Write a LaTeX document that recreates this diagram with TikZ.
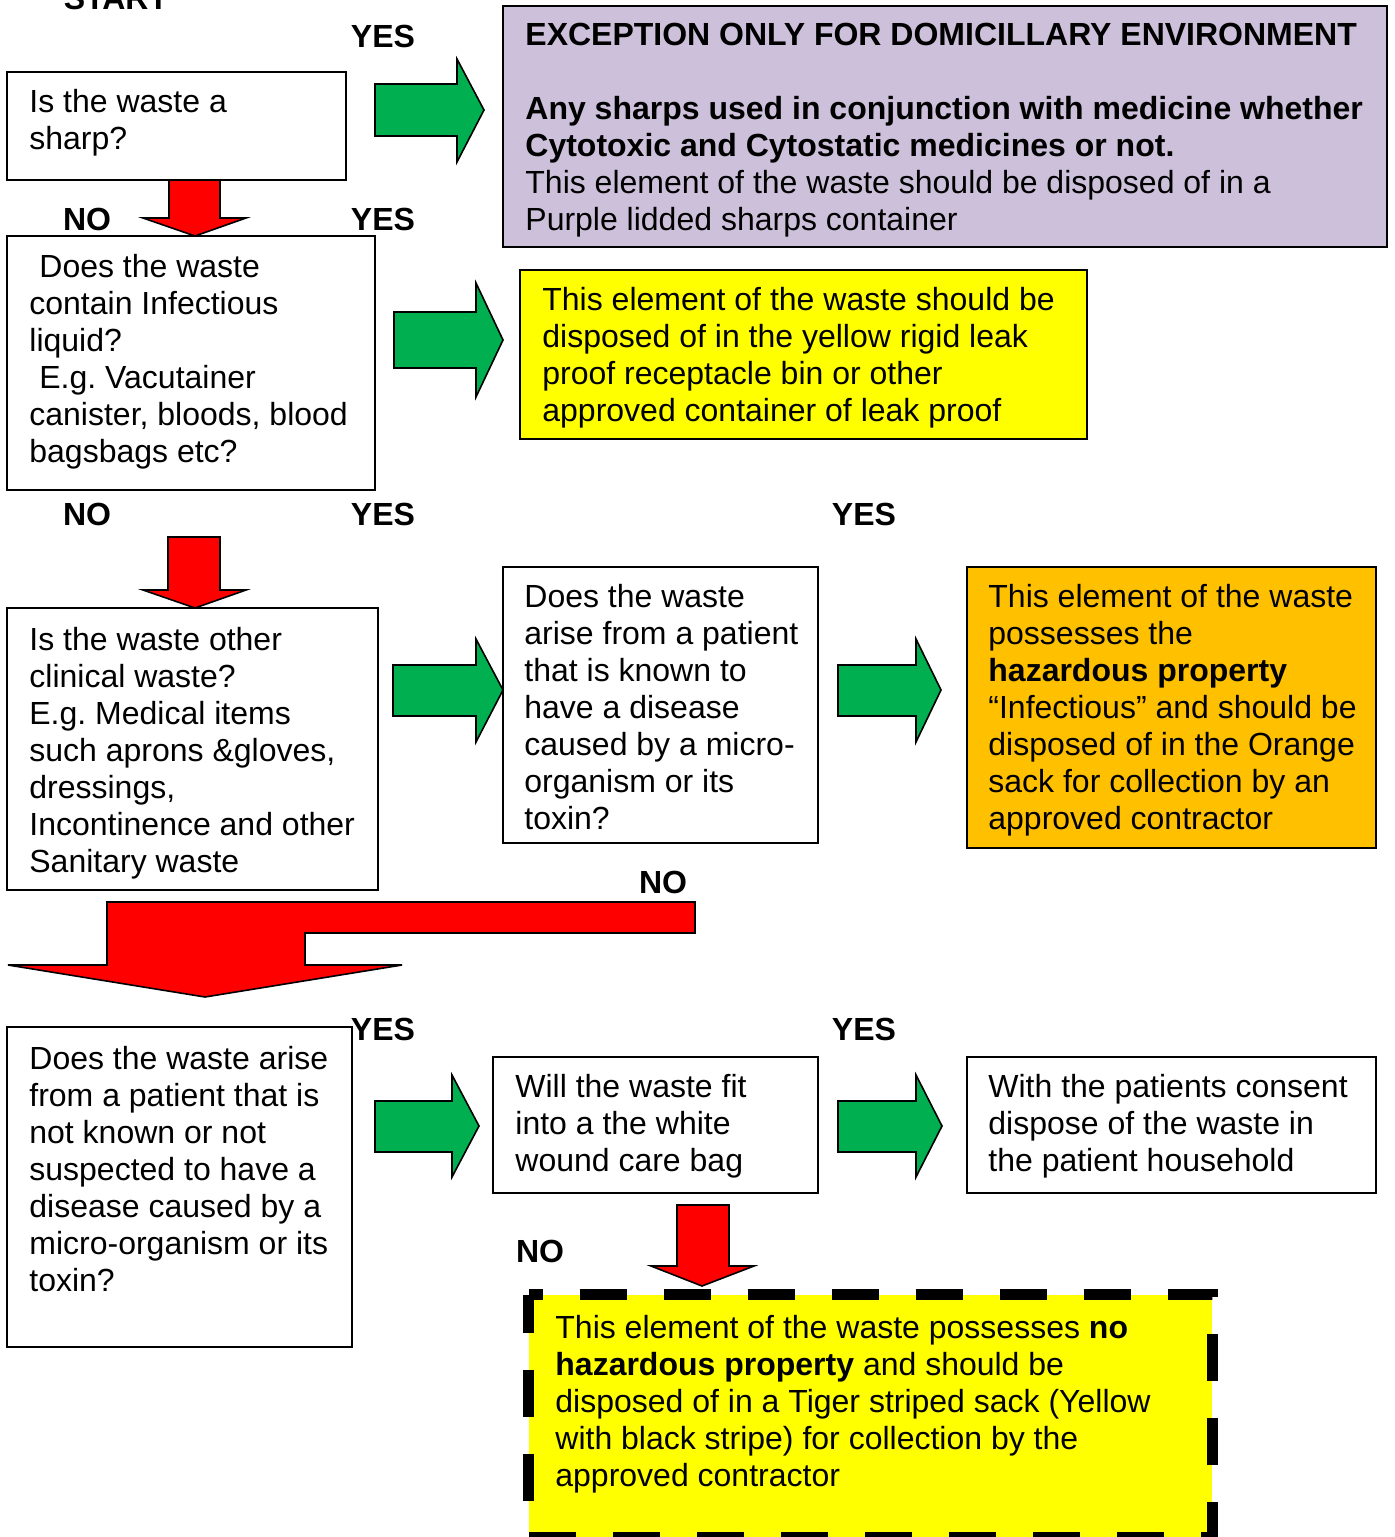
\documentclass[tikz,border=0pt]{standalone}
\usepackage{fontspec}
\setmainfont{Liberation Sans}
\usetikzlibrary{fit}
\definecolor{purplebox}{HTML}{CCC0DA}
\definecolor{yelbox}{HTML}{FFFF00}
\definecolor{orgbox}{HTML}{FFC000}
\definecolor{grn}{HTML}{00B050}
\definecolor{rd}{HTML}{FF0000}
\frenchspacing
\newcommand\tlines[1]{\parbox[t]{700pt}{\raggedright #1}}
\begin{document}
\begin{tikzpicture}[x=0.5pt,y=-0.5pt,
  box/.style={draw=black,line width=1pt,inner sep=0pt},
  txt/.style={anchor=base west,inner sep=0pt,font=\fontsize{16pt}{18.5pt}\selectfont},
  lbl/.style={anchor=base,inner sep=0pt,font=\fontsize{16pt}{18.5pt}\selectfont\bfseries},
  garrow/.style={fill=grn,draw=black,line width=0.8pt,line join=miter},
  rarrow/.style={fill=rd,draw=black,line width=0.8pt,line join=miter},
  dashborder/.style={draw=black,line width=5.5pt,dash pattern=on 23.5pt off 18.5pt,dash phase=16.5pt,line join=miter}]
\useasboundingbox (0,0) rectangle (1394,1537);

% boxes
\node[box,fit={(7,72) (346,180)}] (b1) {};
\node[box,fit={(7,236) (375,490)}] (b2) {};
\node[box,fill=purplebox,fit={(503,6) (1387,247)}] (pu) {};
\node[box,fill=yelbox,fit={(520,270) (1087,439)}] (ye) {};
\node[box,fit={(7,608) (378,890)}] (b3) {};
\node[box,fit={(503,567) (818,843)}] (b4) {};
\node[box,fill=orgbox,fit={(967,567) (1376,848)}] (or) {};
\node[box,fit={(7,1027) (352,1347)}] (b5) {};
\node[box,fit={(493,1057) (818,1193)}] (b6) {};
\node[box,fit={(967,1057) (1376,1193)}] (b7) {};
\node[inner sep=0pt,fill=yelbox,fit={(529,1295) (1212,1537)}] (dz) {};
\draw[dashborder] (dz.north west) -- (dz.north east) -- (dz.south east) -- (dz.south west) -- cycle;

% texts
\node[txt] (t1) at (29,112) {\tlines{Is the waste a\\sharp?}};
\node[txt] (t2) at (29,277) {\tlines{\hspace*{5pt}Does the waste\\contain Infectious\\liquid?\\\hspace*{5pt}E.g. Vacutainer\\canister, bloods, blood\\bagsbags etc?}};
\node[txt] (tpu) at (525,45) {\tlines{\textbf{EXCEPTION ONLY FOR DOMICILLARY ENVIRONMENT}\\[18.5pt]\textbf{Any sharps used in conjunction with medicine whether}\\\textbf{Cytotoxic and Cytostatic medicines or not.}\\This element of the waste should be disposed of in a\\Purple lidded sharps container}};
\node[txt] (tye) at (542,310) {\tlines{This element of the waste should be\\disposed of in the yellow rigid leak\\proof receptacle bin or other\\approved container of leak proof}};
\node[txt] (t3) at (29,650) {\tlines{Is the waste other\\clinical waste?\\E.g. Medical items\\such aprons \&gloves,\\dressings,\\Incontinence and other\\Sanitary waste}};
\node[txt] (t4) at (524,607) {\tlines{Does the waste\\arise from a patient\\that is known to\\have a disease\\caused by a micro-\\organism or its\\toxin?}};
\node[txt] (tor) at (988,607) {\tlines{This element of the waste\\possesses the\\\textbf{hazardous property}\\“Infectious” and should be\\disposed of in the Orange\\sack for collection by an\\approved contractor}};
\node[txt] (t5) at (29,1069) {\tlines{Does the waste arise\\from a patient that is\\not known or not\\suspected to have a\\disease caused by a\\micro-organism or its\\toxin?}};
\node[txt] (t6) at (515,1097) {\tlines{Will the waste fit\\into a the white\\wound care bag}};
\node[txt] (t7) at (988,1097) {\tlines{With the patients consent\\dispose of the waste in\\the patient household}};
\node[txt] (tdz) at (555,1338) {\tlines{This element of the waste possesses \textbf{no}\\\textbf{hazardous property} and should be\\disposed of in a Tiger striped sack (Yellow\\with black stripe) for collection by the\\approved contractor}};

% labels
\node[lbl] (lstart) at (116,9) {START};
\node[lbl] (ly1) at (383,47) {YES};
\node[lbl] (ln1) at (87,230) {NO};
\node[lbl] (ly2) at (383,230) {YES};
\node[lbl] (ln2) at (87,525) {NO};
\node[lbl] (ly3) at (383,525) {YES};
\node[lbl] (ly4) at (864,525) {YES};
\node[lbl] (ln3) at (663,893) {NO};
\node[lbl] (ly5) at (383,1040) {YES};
\node[lbl] (ly6) at (864,1040) {YES};
\node[lbl] (ln4) at (540,1262) {NO};

% green arrows
\draw[garrow] (375,84) -- (457,84) -- (457,59) -- (484,110) -- (457,162) -- (457,136) -- (375,136) -- cycle;
\draw[garrow] (394,312) -- (476,312) -- (476,283) -- (503,340) -- (476,397) -- (476,368) -- (394,368) -- cycle;
\draw[garrow] (393,665) -- (476,665) -- (476,639) -- (503,690) -- (476,742) -- (476,716) -- (393,716) -- cycle;
\draw[garrow] (838,665) -- (916,665) -- (916,639) -- (941,690) -- (916,742) -- (916,716) -- (838,716) -- cycle;
\draw[garrow] (375,1101) -- (452,1101) -- (452,1075) -- (479,1126) -- (452,1177) -- (452,1152) -- (375,1152) -- cycle;
\draw[garrow] (838,1101) -- (916,1101) -- (916,1075) -- (942,1126) -- (916,1177) -- (916,1152) -- (838,1152) -- cycle;

% red arrows
\draw[rarrow] (169,180) -- (220,180) -- (220,218) -- (246,218) -- (195,236) -- (143,218) -- (169,218) -- cycle;
\draw[rarrow] (168,537) -- (220,537) -- (220,590) -- (246,590) -- (195,608) -- (143,590) -- (168,590) -- cycle;
\draw[rarrow] (677,1205) -- (729,1205) -- (729,1266) -- (754,1266) -- (702,1286) -- (651,1266) -- (677,1266) -- cycle;
\draw[rarrow] (695,902) -- (107,902) -- (107,965) -- (8,965) -- (205,997) -- (402,965) -- (305,965) -- (305,933) -- (695,933) -- cycle;
\end{tikzpicture}
\end{document}
